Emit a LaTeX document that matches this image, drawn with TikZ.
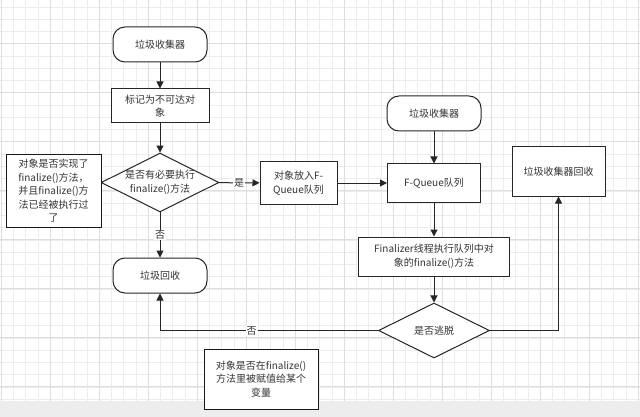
\documentclass[tikz,border=0pt]{standalone}
\usepackage{fontspec}
\setmainfont{Noto Sans CJK SC}
\usetikzlibrary{shapes.geometric,arrows.meta}
\begin{document}
\begin{tikzpicture}[x=1pt,y=-1pt,
  font=\fontsize{10}{13.5}\selectfont,
  every node/.style={text=black!80},
  term/.style={draw=black!85,line width=1pt,rounded corners=12pt,minimum width=94pt,minimum height=35pt,fill=white},
  proc/.style={draw=black!85,line width=1pt,minimum width=#1,fill=white,align=center,inner sep=1pt},
  dec/.style={draw=black!85,line width=1pt,diamond,aspect=2,fill=white,align=center,inner sep=0pt},
  note/.style={draw=black!90,line width=1pt,fill=white,align=center,inner sep=1pt},
  conn/.style={draw=black!85,line width=1pt,-{Triangle[length=7pt,width=7pt]}},
  lbl/.style={fill=white,inner sep=1pt}]
\useasboundingbox (0,0) rectangle (640,417);
\fill[white] (0,0) rectangle (640,417);
% grid
\foreach \i in {0,...,52} {\draw[black!7,line width=0.5pt] (1+\i*12.25,0) -- (1+\i*12.25,401);}
\foreach \j in {0,...,33} {\draw[black!7,line width=0.5pt] (0,7+\j*12.25) -- (640,7+\j*12.25);}
\foreach \i in {0,...,13} {\draw[black!13,line width=0.6pt] (1+\i*49,0) -- (1+\i*49,401);}
\foreach \j in {0,...,8} {\draw[black!13,line width=0.6pt] (0,43+\j*49-49) -- (640,43+\j*49-49);}
\fill[black!7] (0,401) rectangle (640,417);
% nodes
\node[term] (s1) at (160,44.5) {垃圾收集器};
\node[proc=98pt,minimum height=34pt] (mark) at (160,106) {标记为不可达对\\象};
\node[dec,minimum width=110pt,minimum height=55pt] (d1) at (160,182.5) {是否有必要执行\\finalize()方法};
\node[note,minimum width=95pt,minimum height=72pt] (n1) at (53.5,191) {对象是否实现了\\finalize()方法，\\并且finalize()方\\法已经被执行过\\了};
\node[proc=77pt,minimum height=42pt] (put) at (298.5,183) {对象放入F-\\Queue队列};
\node[term] (s2) at (434,113.5) {垃圾收集器};
\node[proc=93pt,minimum height=38pt] (fq) at (434,183) {F-Queue队列};
\node[proc=93pt,minimum height=49pt] (gcr) at (558.5,171.5) {垃圾收集器回收};
\node[proc=151pt,minimum height=39pt] (fin) at (434,256.5) {Finalizer线程执行队列中对\\象的finalize()方法};
\node[dec,minimum width=111pt,minimum height=55pt] (d2) at (434,330.5) {是否逃脱};
\node[term] (gc) at (160,275.5) {垃圾回收};
\node[note,minimum width=114pt,minimum height=60pt] (n2) at (261,379) {对象是否在finalize()\\方法里被赋值给某个\\变量};
% connectors
\draw[conn] (s1) -- (mark);
\draw[conn] (mark) -- (d1);
\draw[conn] (d1) -- node[lbl] {是} (put);
\draw[conn] (d1) -- node[lbl,pos=0.5] {否} (gc);
\draw[conn] (put) -- (fq);
\draw[conn] (s2) -- (fq);
\draw[conn] (fq) -- (fin);
\draw[conn] (fin) -- (d2);
\draw[conn] (d2.east) -| (gcr.south);
\draw[conn] (d2.west) -- node[lbl,pos=0.58] {否} (d2.west -| gc) -- (gc.south);
\end{tikzpicture}
\end{document}
